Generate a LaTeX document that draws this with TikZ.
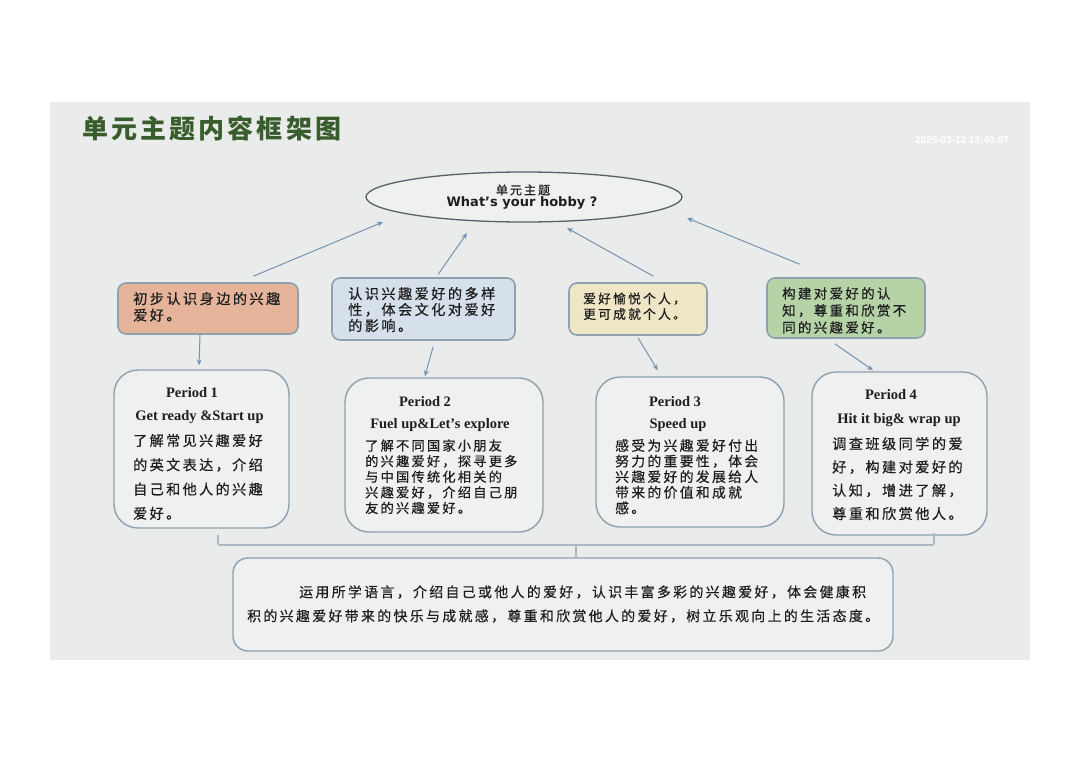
\documentclass[tikz,border=0pt]{standalone}
\usepackage{fontspec}
\setmainfont{Liberation Serif}
\newfontfamily\cjk[LetterSpace=17,FakeBold=0.5]{Noto Sans CJK SC}
\newfontfamily\cjktitle[LetterSpace=12]{Noto Sans CJK SC}
\newfontfamily\sanshead{DejaVu Sans}
\newfontfamily\stampfont{Liberation Sans}
\usetikzlibrary{shapes.geometric,arrows.meta,calc}
\definecolor{slidebg}{HTML}{E9ECEA}
\definecolor{boxline}{HTML}{8FA0AE}
\definecolor{arrowc}{HTML}{7593B0}
\definecolor{fillA}{HTML}{E6B49B}
\definecolor{fillB}{HTML}{D6E0EA}
\definecolor{fillC}{HTML}{EEE6C4}
\definecolor{fillD}{HTML}{B5D3A7}
\definecolor{pfill}{HTML}{EEF1F0}
\definecolor{txt}{HTML}{1E1E1E}
\definecolor{titlegreen}{HTML}{385C2C}
\definecolor{ellline}{HTML}{5A6066}
\definecolor{brkc}{HTML}{A9B8C6}
\tikzset{
  cbox/.style={draw=boxline, line width=1.6pt, rounded corners=8pt, inner sep=0pt},
  pbox/.style={draw=boxline, line width=1.4pt, rounded corners=24pt, fill=pfill, inner sep=0pt},
  bbox/.style={draw=boxline, line width=1.4pt, rounded corners=15pt, fill=pfill, inner sep=0pt},
  arr/.style={draw=arrowc, line width=1pt, -{Stealth[length=6pt,width=5pt]}},
  brk/.style={draw=brkc, line width=1.6pt, rounded corners=2pt},
  body/.style={anchor=north west, inner sep=0pt, align=left, text=txt},
  hdr/.style={inner sep=0pt, text=txt, font=\bfseries\fontsize{14.5}{16}\selectfont},
}
\begin{document}
\begin{tikzpicture}[x=1pt,y=-1pt]
\useasboundingbox (0,0) rectangle (1080,763);
\fill[white] (0,0) rectangle (1080,763);
\fill[slidebg] (50,102) rectangle (1030,660);

% title and stamp
\node[anchor=west, inner sep=0pt, text=titlegreen, font=\cjktitle\bfseries\fontsize{26}{28}\selectfont] (title) at (82,128) {单元主题内容框架图};
\node[inner sep=0pt, text=white, font=\stampfont\bfseries\fontsize{10}{12}\selectfont] (stamp) at (962,140) {2025-03-12 13:40:07};

% ellipse
\node[ellipse, draw=ellline, line width=1.3pt, fill=pfill, minimum width=316pt, minimum height=50pt, inner sep=0pt] (ell) at (524,197) {};
\node[inner sep=0pt, text=txt, font=\cjk\fontsize{12}{13}\selectfont] (ellt1) at (523,190) {单元主题};
\node[inner sep=0pt, text=txt, font=\sanshead\bfseries\fontsize{13}{14}\selectfont] (ellt2) at (522,203) {What’s your hobby ?};

% coloured boxes
\node[cbox, fill=fillA, minimum width=180pt, minimum height=51pt] (b1) at (208,308.5) {};
\node[cbox, fill=fillB, minimum width=183pt, minimum height=62pt] (b2) at (423.5,309) {};
\node[cbox, fill=fillC, minimum width=138pt, minimum height=52pt] (b3) at (638,309) {};
\node[cbox, fill=fillD, minimum width=158pt, minimum height=60pt] (b4) at (846,308) {};

\node[body, font=\cjk\fontsize{14.2}{16.5}\selectfont] (b1t) at (133,291.8) {初步认识身边的兴趣\\爱好。};
\node[body, font=\cjk\fontsize{14.2}{16}\selectfont] (b2t) at (348,286.8) {认识兴趣爱好的多样\\性，体会文化对爱好\\的影响。};
\node[body, font=\cjk\fontsize{12.8}{15.5}\selectfont] (b3t) at (583,292.4) {爱好愉悦个人，\\更可成就个人。};
\node[body, font=\cjk\fontsize{13.5}{17}\selectfont] (b4t) at (782,287) {构建对爱好的认\\知，尊重和欣赏不\\同的兴趣爱好。};

% period boxes
\node[pbox, minimum width=175pt, minimum height=158pt] (p1) at (201.5,449) {};
\node[pbox, minimum width=198pt, minimum height=154pt] (p2) at (444,455) {};
\node[pbox, minimum width=188pt, minimum height=150pt] (p3) at (690,452) {};
\node[pbox, minimum width=175pt, minimum height=163pt] (p4) at (899.5,453.5) {};

\node[hdr] (p1h1) at (192,393) {Period 1};
\node[hdr] (p1h2) at (199.5,417) {Get ready \&Start up};
\node[body, font=\cjk\fontsize{14.1}{24.3}\selectfont] (p1t) at (133,433.8) {了解常见兴趣爱好\\的英文表达，介绍\\自己和他人的兴趣\\爱好。};

\node[hdr] (p2h1) at (425,402) {Period 2};
\node[hdr] (p2h2) at (440,425) {Fuel up\&Let’s explore};
\node[body, font=\cjk\fontsize{13.2}{15.6}\selectfont] (p2t) at (365,439.2) {了解不同国家小朋友\\的兴趣爱好，探寻更多\\与中国传统化相关的\\兴趣爱好，介绍自己朋\\友的兴趣爱好。};

\node[hdr] (p3h1) at (675,402) {Period 3};
\node[hdr] (p3h2) at (678,425) {Speed up};
\node[body, font=\cjk\fontsize{13.8}{15.6}\selectfont] (p3t) at (615,438.9) {感受为兴趣爱好付出\\努力的重要性，体会\\兴趣爱好的发展给人\\带来的价值和成就\\感。};

\node[hdr] (p4h1) at (891,395) {Period 4};
\node[hdr] (p4h2) at (899,420) {Hit it big\& wrap up};
\node[body, font=\cjk\fontsize{14.2}{23.3}\selectfont] (p4t) at (832,436.8) {调查班级同学的爱\\好，构建对爱好的\\认知，增进了解，\\尊重和欣赏他人。};

% bottom box
\node[bbox, minimum width=660pt, minimum height=93pt] (bot) at (563,604.5) {};
\node[anchor=west, inner sep=0pt, text=txt, font=\cjk\fontsize{13.9}{16}\selectfont] (bott1) at (299,592) {运用所学语言，介绍自己或他人的爱好，认识丰富多彩的兴趣爱好，体会健康积};
\node[anchor=west, inner sep=0pt, text=txt, font=\cjk\fontsize{13.9}{16}\selectfont] (bott2) at (247,616) {积的兴趣爱好带来的快乐与成就感，尊重和欣赏他人的爱好，树立乐观向上的生活态度。};

% arrows up to the ellipse
\coordinate (t1) at (383,222);
\coordinate (t2) at (467,233);
\coordinate (t3) at (567,228);
\coordinate (t4) at (687,218);
\draw[arr] ($(b1.north west)!0.75!(b1.north east)+(0,-6)$) -- (t1);
\draw[arr] ($(b2.north west)!0.58!(b2.north east)+(0,-3)$) -- (t2);
\draw[arr] ($(b3.north west)!0.61!(b3.north east)+(0,-6)$) -- (t3);
\draw[arr] ($(b4.north west)!0.21!(b4.north east)+(0,-13)$) -- (t4);

% arrows down to the periods
\draw[arr] ($(b1.south west)!0.456!(b1.south east)$) -- ($(p1.north west)!0.486!(p1.north east)+(0,-4)$);
\draw[arr] ($(b2.south west)!0.552!(b2.south east)+(0,6)$) -- ($(p2.north west)!0.404!(p2.north east)+(0,-1)$);
\draw[arr] ($(b3.south west)!0.5!(b3.south east)+(0,2)$) -- ($(p3.north west)!0.33!(p3.north east)+(0,-6)$);
\draw[arr] ($(b4.south west)!0.43!(b4.south east)+(0,5)$) -- ($(p4.north west)!0.35!(p4.north east)+(0,-1)$);

% bracket
\coordinate (brkl) at (218,535);
\coordinate (brkr) at (934,533);
\coordinate (brkm) at (576,545);
\draw[brk] (brkl) -- (218,545) -- (934,545) -- (brkr);
\draw[brkc, line width=1.6pt] (brkm) -- (brkm |- bot.north);
\end{tikzpicture}
\end{document}
